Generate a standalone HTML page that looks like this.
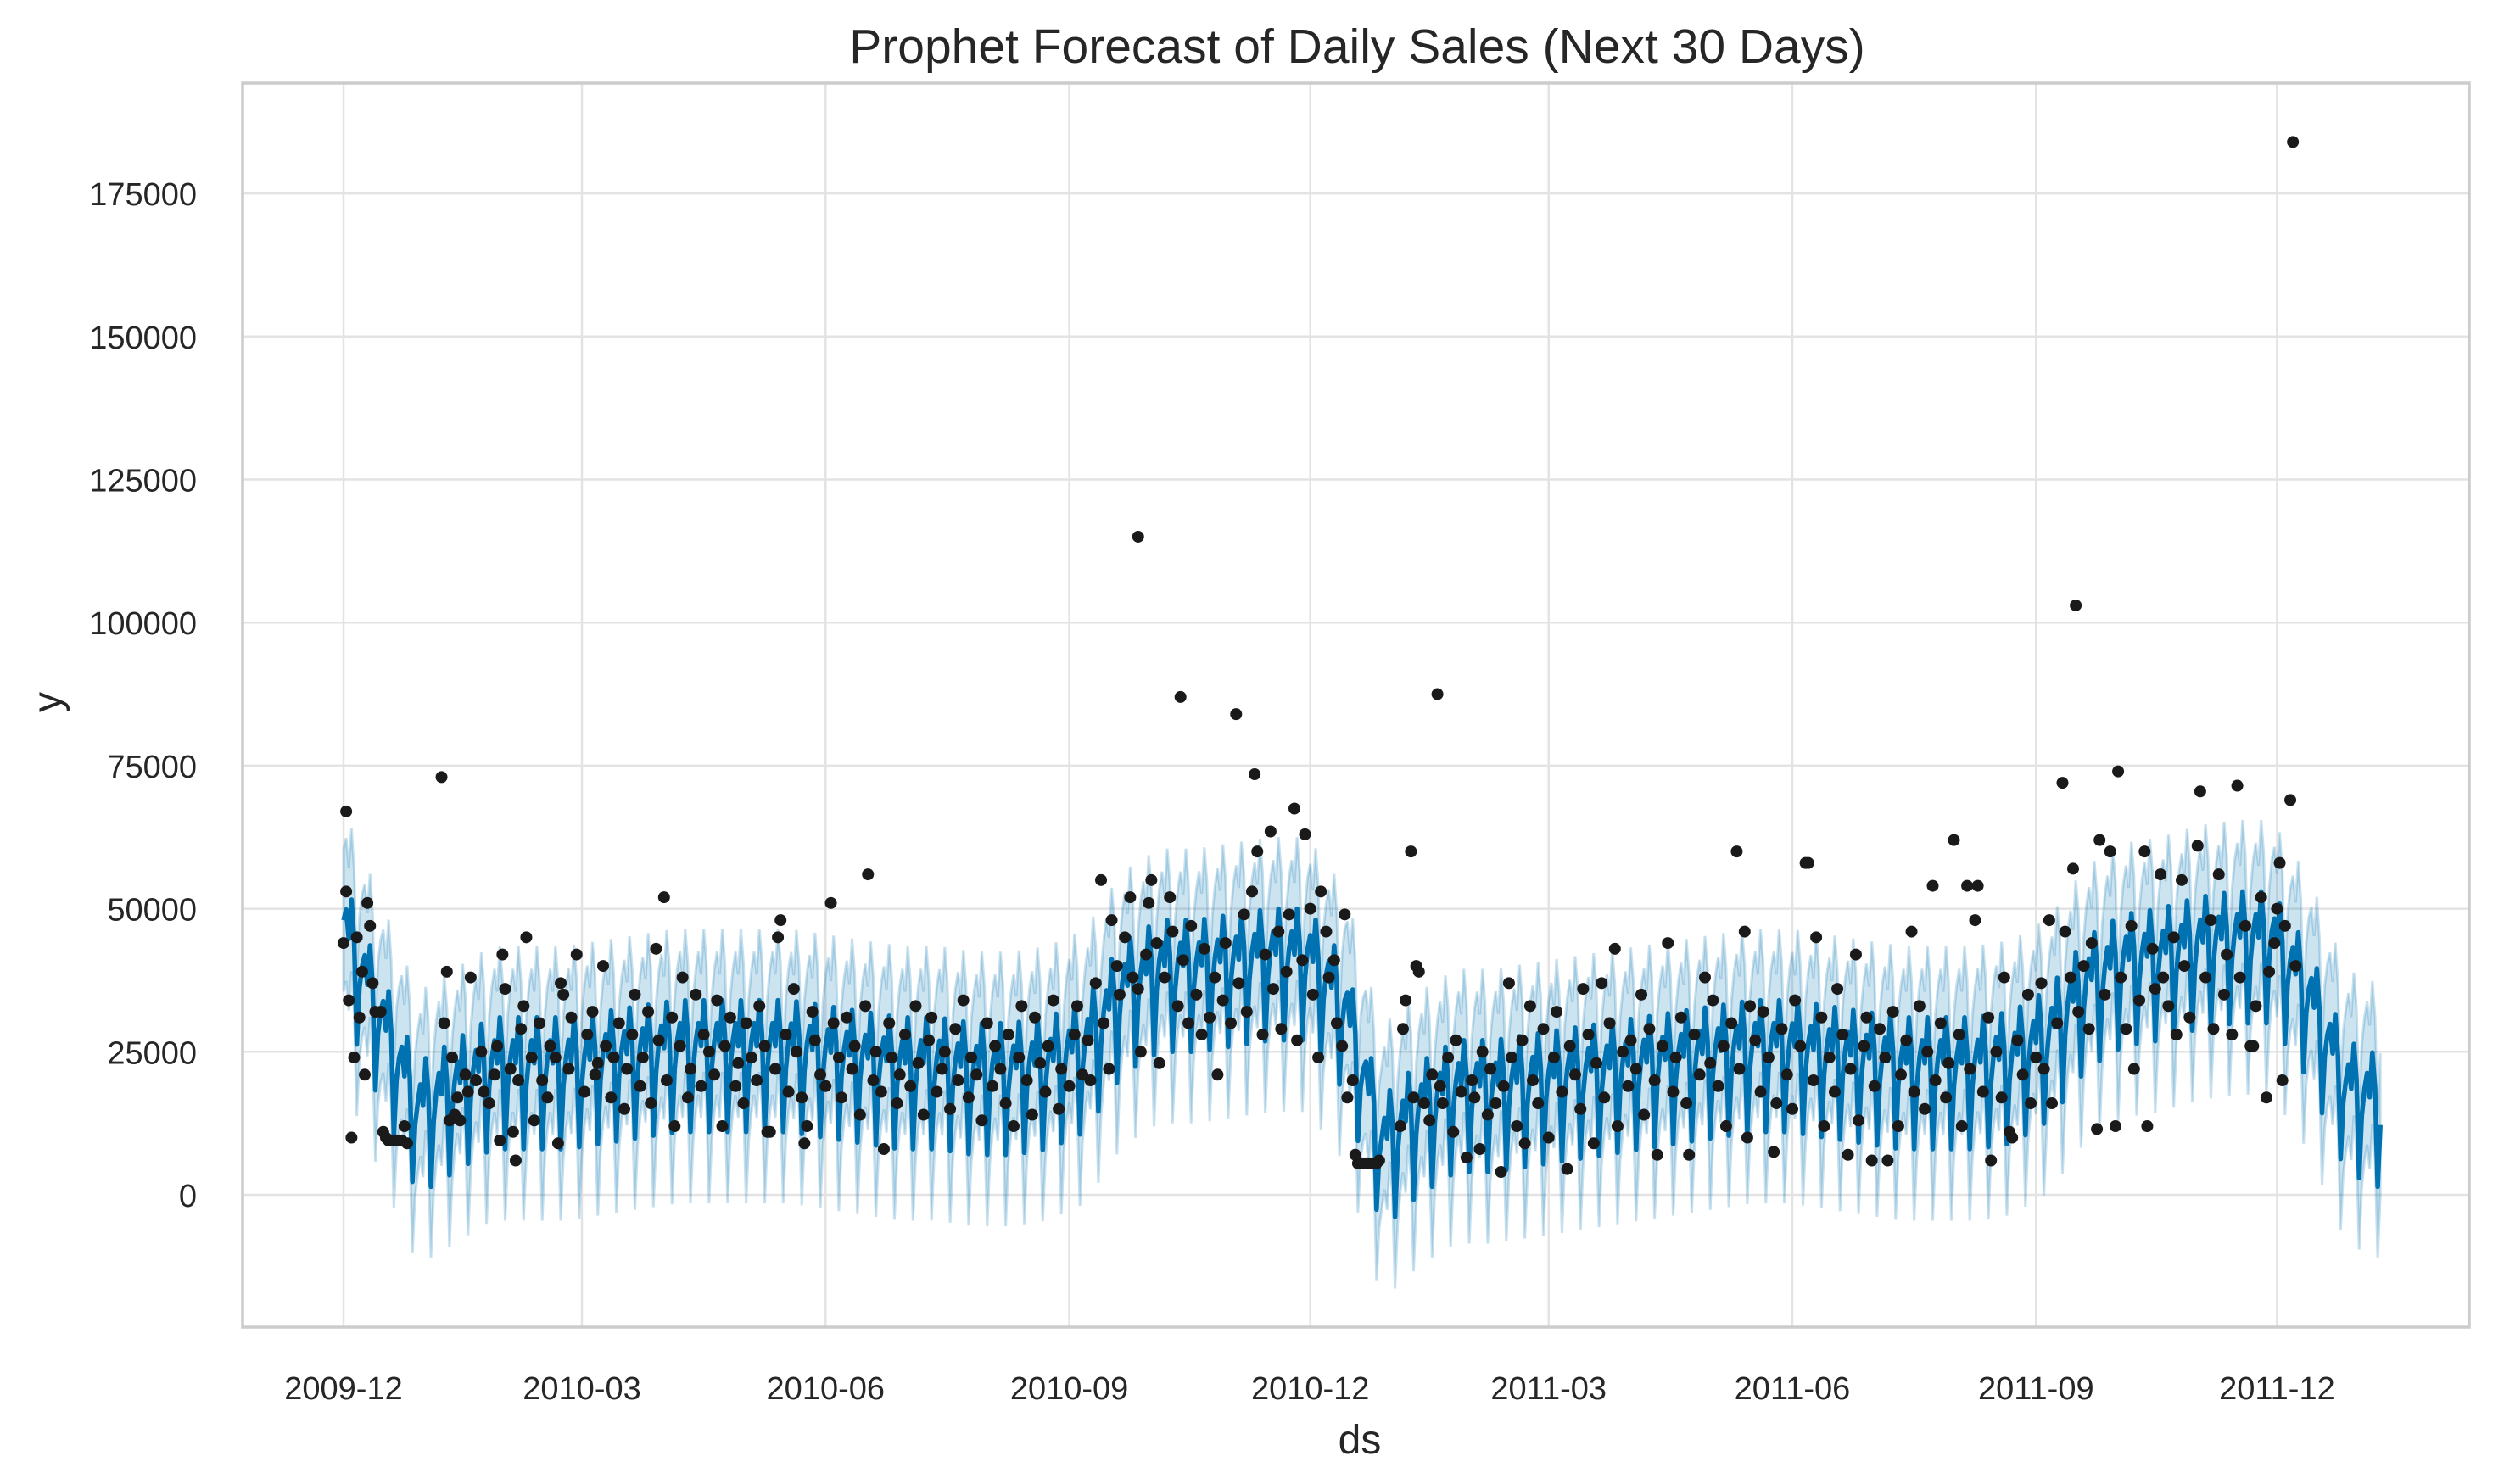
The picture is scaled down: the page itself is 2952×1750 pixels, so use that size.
<!DOCTYPE html>
<html><head><meta charset="utf-8"><style>
html,body{margin:0;padding:0;background:#fff;}
svg{display:block;font-family:"Liberation Sans",sans-serif;}
</style></head><body>
<svg id="chart" width="2952" height="1750" viewBox="0 0 2952 1750" xmlns="http://www.w3.org/2000/svg">
<rect x="0" y="0" width="2952" height="1750" fill="#fff"/>
<text x="1600" y="74" text-anchor="middle" font-size="57" fill="#262626">Prophet Forecast of Daily Sales (Next 30 Days)</text>
<g id="grid"></g>
<g id="band"></g>
<g id="line"></g>
<g id="dots"></g>
<rect x="286" y="98" width="2625" height="1467" fill="none" stroke="#cccccc" stroke-width="3.5"/>
<g id="ticks"></g>
<text x="1603" y="1714" text-anchor="middle" font-size="48" fill="#262626">ds</text>
<text x="0" y="0" transform="translate(72,828) rotate(-90)" text-anchor="middle" font-size="48" fill="#262626">y</text>
</svg>
<script>
const yTicks=[0,25000,50000,75000,100000,125000,150000,175000];
const xTickLabels=["2009-12","2010-03","2010-06","2010-09","2010-12","2011-03","2011-06","2011-09","2011-12"];
const xTickDays=[0,90,182,274,365,455,547,639,730];
const knotDays=[0,14,28,42,56,70,84,98,112,126,140,154,168,182,196,210,224,238,252,266,280,294,308,322,336,350,364,378,392,406,420,434,448,462,476,490,504,518,532,546,560,574,588,602,616,630,644,658,672,686,700,714,728,742,756,770];
const knotLevels=[46000,30000,14000,18000,22000,22000,22000,23000,24000,25000,25000,25000,25000,24000,23000,22000,22000,21000,21000,22000,25000,35000,39000,39000,40000,41000,41000,32000,8000,14000,18000,18000,19000,20000,21000,22000,23000,24000,25000,25000,24000,23000,22000,22000,22000,23000,27000,36000,40000,41000,43000,44000,44000,34000,18000,15000];
const weeklyOffsets=[2000,5000,1000,9000,3000,-14000,-3000];
const bandHalfWidth=[12500];
const forecastDays=[769];
const obsDays=[0,1,1,2,3,4,5,6,7,8,9,10,11,12,14,15,16,17,18,19,20,21,22,23,24,
37,38,39,40,41,42,43,44,46,47,48,50,52,53,55,57,58,59,60,61,63,
64,65,66,67,68,69,71,72,74,75,77,78,80,81,82,83,85,86,88,
91,92,94,95,96,98,99,101,102,104,106,107,109,110,112,113,115,116,118,119,
121,122,124,125,127,128,130,131,133,135,136,138,140,141,143,144,146,148,149,
151,152,154,156,157,159,160,161,163,164,165,167,168,170,171,173,174,175,177,178,180,
182,184,185,187,188,190,192,193,195,197,198,200,201,203,204,206,207,209,210,
212,214,216,217,219,221,222,224,226,227,229,231,232,234,236,237,239,241,
243,245,246,248,250,251,253,255,256,258,260,261,263,265,266,268,270,271,
274,276,277,279,281,282,284,286,287,289,290,292,293,295,297,298,300,300,301,303,
304,305,307,308,310,312,313,315,316,317,319,320,322,324,325,327,329,330,332,333,
335,337,338,340,341,343,344,345,347,348,350,351,353,354,356,357,359,360,362,363,
365,366,368,369,371,372,374,375,377,378,379,381,382,383,384,385,386,387,388,389,390,391,
399,400,401,403,404,405,406,408,410,411,413,414,415,417,419,420,422,424,426,
427,429,430,432,433,435,437,438,440,441,443,445,446,448,449,451,453,
455,457,458,460,462,463,465,467,468,470,472,473,475,476,478,480,481,483,485,
486,488,490,491,493,495,496,498,500,502,503,505,507,508,510,512,514,
516,517,519,521,522,524,526,527,529,530,531,533,535,536,538,540,541,543,545,
547,548,550,552,553,555,556,558,559,561,563,564,566,568,569,571,572,574,575,
577,578,580,582,583,585,587,588,590,592,593,595,597,598,600,601,603,605,606,
608,610,611,613,614,616,617,619,621,622,624,626,627,629,630,632,634,636,637,
639,641,642,644,645,647,649,650,652,653,654,655,657,659,660,662,663,665,667,
669,670,671,673,675,676,678,680,681,683,684,686,687,689,691,692,694,695,697,
700,701,703,705,706,708,710,711,713,715,716,718,720,721,722,724,726,727,729,
730,731,732,733,735,736,737];
const obsValues=[44000,53000,67000,34000,10000,24000,45000,31000,39000,21000,51000,47000,37000,32000,32000,11000,10000,9500,9500,9500,9500,9500,9500,12000,9000,
73000,30000,39000,13000,24000,14000,17000,13000,21000,18000,38000,20000,25000,18000,16000,21000,26000,9500,42000,36000,22000,
11000,6000,20000,29000,33000,45000,24000,13000,30000,20000,17000,26000,24000,9000,37000,35000,22000,31000,42000,
18000,28000,32000,21000,23000,40000,26000,17000,24000,30000,15000,22000,28000,35000,19000,24000,32000,16000,43000,27000,
52000,20000,31000,12000,26000,38000,17000,22000,35000,19000,28000,25000,21000,34000,12000,26000,31000,19000,23000,
16000,30000,24000,20000,33000,26000,11000,11000,22000,45000,48000,28000,18000,36000,25000,17000,9000,12000,32000,27000,21000,
19000,51000,30000,24000,17000,31000,22000,26000,14000,33000,56000,20000,25000,18000,8000,30000,24000,16000,21000,
28000,19000,33000,23000,14000,27000,31000,18000,22000,25000,15000,29000,20000,34000,17000,24000,21000,13000,
30000,19000,26000,22000,16000,28000,12000,24000,33000,20000,14000,31000,23000,18000,26000,34000,15000,22000,
19000,28000,33000,21000,27000,20000,37000,55000,30000,22000,48000,40000,35000,45000,52000,38000,115000,36000,25000,42000,
51000,55000,44000,23000,38000,52000,46000,33000,87000,41000,30000,47000,35000,28000,43000,31000,38000,21000,34000,44000,
30000,84000,37000,49000,32000,53000,73500,60000,28000,42000,63500,36000,46000,29000,39000,49000,67500,27000,41000,63000,
50000,35000,24000,53000,46000,38000,41000,30000,26000,49000,17000,20000,7000,5500,5500,5500,5500,5500,5500,5500,5500,6000,
12000,29000,34000,60000,17000,40000,39000,16000,13000,21000,87500,19000,16000,24000,11000,27000,18000,6500,20000,
17000,8000,25000,14000,22000,16000,4000,19000,37000,24000,12000,27000,9000,33000,20000,16000,29000,
10000,24000,32000,18000,4500,26000,21000,15000,36000,28000,9000,23000,37000,17000,30000,43000,12000,25000,19000,
27000,22000,35000,14000,29000,20000,7000,26000,44000,18000,24000,31000,16000,7000,28000,21000,38000,
23000,34000,19000,26000,12000,30000,60000,22000,46000,10000,33000,27000,18000,32000,24000,7500,16000,29000,21000,
15000,34000,26000,58000,58000,20000,45000,31000,12000,24000,18000,36000,28000,7000,22000,42000,13000,26000,31000,
6000,19000,29000,24000,6000,32000,12000,21000,27000,46000,18000,33000,15000,25000,54000,20000,30000,17000,23000,
62000,28000,12000,54000,22000,48000,54000,18000,31000,6000,25000,17000,38000,11000,10000,27000,21000,35000,16000,
24000,37000,22000,48000,16000,30000,72000,46000,38000,57000,103000,32000,40000,29000,44000,11500,62000,35000,60000,
12000,74000,38000,29000,47000,22000,34000,60000,12000,43000,36000,56000,38000,33000,45000,28000,55000,40000,31000,
61000,70500,38000,48000,29000,56000,35000,42000,28000,71500,38000,47000,26000,26000,33000,52000,17000,39000,44000,
50000,58000,20000,47000,69000,184000,40000];

const NS="http://www.w3.org/2000/svg";
const L=286,R=2911,T=98,B=1565;
const X0=405,PXD=3.1225;
const Y0=1409,PXV=168.7/25000;
function xs(d){return X0+d*PXD;}
function ys(v){return Y0-v*PXV;}
function mk(tag,attrs,parent){const e=document.createElementNS(NS,tag);for(const k in attrs)e.setAttribute(k,attrs[k]);parent.appendChild(e);return e;}
function level(d){
  for(let i=0;i<knotDays.length-1;i++){
    if(d<=knotDays[i+1]){const t=(d-knotDays[i])/(knotDays[i+1]-knotDays[i]);return knotLevels[i]+(knotLevels[i+1]-knotLevels[i])*t;}
  }
  return knotLevels[knotLevels.length-1];
}
const grid=document.getElementById('grid');
yTicks.forEach(v=>{
  const ln=mk('line',{x1:L,x2:R,y1:ys(v),y2:ys(v),stroke:'#e3e3e3','stroke-width':2.5},grid);
  
  
});
xTickDays.forEach(d=>{
  const ln=mk('line',{x1:xs(d),x2:xs(d),y1:T,y2:B,stroke:'#e3e3e3','stroke-width':2.5},grid);
  
  
});
const ticks=document.getElementById('ticks');
yTicks.forEach(v=>{
  const t=mk('text',{x:232,y:ys(v)+14,'text-anchor':'end','font-size':38,fill:'#262626'},ticks);
  t.textContent=String(v);
  
  
});
xTickDays.forEach((d,i)=>{
  const t=mk('text',{x:xs(d),y:1650,'text-anchor':'middle','font-size':38,fill:'#262626'},ticks);
  t.textContent=xTickLabels[i];
  
  
});
const N=forecastDays[0];
const yhat=[];
for(let d=0;d<=N;d++){yhat.push(level(d)+weeklyOffsets[d%7]);}
let up='',lo='',ln='';
for(let d=0;d<=N;d++){
  up+=(d?'L':'M')+xs(d).toFixed(1)+','+ys(yhat[d]+bandHalfWidth[0]).toFixed(1);
  ln+=(d?'L':'M')+xs(d).toFixed(1)+','+ys(yhat[d]).toFixed(1);
}
for(let d=N;d>=0;d--){lo+='L'+xs(d).toFixed(1)+','+ys(yhat[d]-bandHalfWidth[0]).toFixed(1);}
const band=document.getElementById('band');
const bp=mk('path',{d:up+lo+'Z',fill:'#0072B2','fill-opacity':0.2,stroke:'#0072B2','stroke-opacity':0.22,'stroke-width':3},band);


const lp=mk('path',{d:ln,fill:'none',stroke:'#0072B2','stroke-width':5.5,'stroke-linejoin':'round'},document.getElementById('line'));


const dots=document.getElementById('dots');
obsDays.forEach((d,i)=>{
  const c=mk('circle',{cx:xs(d),cy:ys(obsValues[i]),r:7,fill:'#1a1a1a'},dots);
  
  
});
</script>
</body></html>
